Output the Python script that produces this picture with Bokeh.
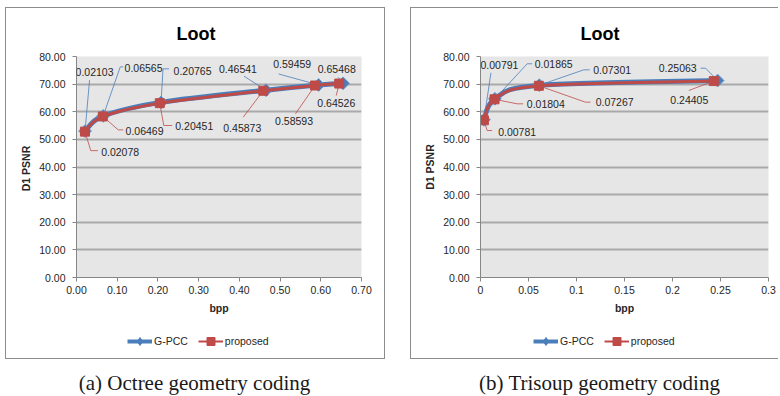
from bokeh.plotting import figure
from bokeh.models import (Range1d, FixedTicker, NumeralTickFormatter, Legend, LegendItem,
                          ColumnDataSource, LabelSet, Div)
from bokeh.core.properties import value
from bokeh.layouts import row, column
from bokeh.embed import file_html
from bokeh.resources import INLINE

NAN = float("nan")

# ---------------- data ----------------
series_names = ["G-PCC", "proposed"]
chart_title = "Loot"
x_label = "bpp"

oct_gpcc_bpp = [0.02103, 0.06565, 0.20765, 0.46541, 0.59459, 0.65468]
oct_gpcc_psnr = [53.0, 58.5, 63.4, 67.8, 69.7, 70.3]
oct_gpcc_labels = ["0.02103", "0.06565", "0.20765", "0.46541", "0.59459", "0.65468"]
oct_prop_bpp = [0.02078, 0.06469, 0.20451, 0.45873, 0.58593, 0.64526]
oct_prop_psnr = [52.8, 58.3, 63.1, 67.6, 69.5, 70.2]
oct_prop_labels = ["0.02078", "0.06469", "0.20451", "0.45873", "0.58593", "0.64526"]

tri_gpcc_bpp = [0.0036, 0.0150, 0.0612, 0.2470]
tri_gpcc_psnr = [57.1, 64.7, 69.6, 71.3]
tri_gpcc_labels = ["0.00791", "0.01865", "0.07301", "0.25063"]
tri_prop_bpp = [0.0035, 0.0146, 0.0608, 0.2430]
tri_prop_psnr = [56.9, 64.5, 69.4, 71.1]
tri_prop_labels = ["0.00781", "0.01804", "0.07267", "0.24405"]

y_ticks = [0, 10, 20, 30, 40, 50, 60, 70, 80]
oct_x_ticks = [0.0, 0.1, 0.2, 0.3, 0.4, 0.5, 0.6, 0.7]
tri_x_ticks = [0, 0.05, 0.1, 0.15, 0.2, 0.25, 0.3]
tri_x_tick_labels = ["0", "0.05", "0.1", "0.15", "0.2", "0.25", "0.3"]

captions = ["(a) Octree geometry coding", "(b) Trisoup geometry coding"]

# ---------------- label placement (screen px, y down) ----------------
oct_gpcc_off = [(9.5, -58.6), (40.3, -47.9), (31.5, -30.9), (-28, -21.4), (-26.4, -21.2), (-6.3, -13.8)]
oct_gpcc_lead = [[(0, 0), (4.5, -51)], [(0, 0), (17, -49), (20, -49)], [(0, 0), (2, -33.5), (8, -33.5)],
                 [(0, 0), (-22, -14)], [(0, 0), (-40, -11)], [(0, 0), (-5, -6)]]
oct_prop_off = [(35.2, 20.6), (41.7, 14.8), (34.5, 23.3), (-21, 37), (-21, 35.7), (-2.9, 19.2)]
oct_prop_lead = [[(0, 0), (5.8, 19), (13, 19)], [(0, 0), (15.4, 13.4), (20.4, 13.4)],
                 [(0, 0), (4, 22.3), (12.4, 22.3)], [(0, 0), (-20, 26.4)], [(0, 0), (-19.6, 28.3)],
                 [(0, 0), (-3, 12)]]
tri_gpcc_off = [(15.5, -54.3), (58.8, -35), (72.9, -15.4), (-39.9, -12.3)]
tri_gpcc_lead = [[(0, 0), (7, -47)], [(0, 0), (32.3, -35), (37.3, -35)],
                 [(0, 0), (44.5, -15.4), (50.5, -15.4)], [(0, 0), (-12, -12.3), (-17, -12.3)]]
tri_prop_off = [(33.3, 11.2), (51.3, 4.5), (75.8, 16.4), (-24.5, 19.4)]
tri_prop_lead = [[(0, 0), (3.3, 10.2), (8.3, 10.2)], [(0, 0), (22.7, 4.5), (28.7, 4.5)],
                 [(0, 0), (46.6, 16.4), (51.6, 16.4)], [(0, 0), (-25, 9.4)]]

BLUE = "#4a7ebb"
RED = "#be4b48"
TXT = "#262626"
FONT = "Liberation Sans"


def bez(xs, ys):
    n = len(xs)
    out = dict(x0=[], y0=[], x1=[], y1=[], cx0=[], cy0=[], cx1=[], cy1=[])
    for i in range(n - 1):
        im = max(i - 1, 0)
        ip = min(i + 2, n - 1)
        out["x0"].append(xs[i]); out["y0"].append(ys[i])
        out["x1"].append(xs[i + 1]); out["y1"].append(ys[i + 1])
        out["cx0"].append(xs[i] + (xs[i + 1] - xs[im]) / 6)
        out["cy0"].append(ys[i] + (ys[i + 1] - ys[im]) / 6)
        out["cx1"].append(xs[i + 1] - (xs[ip] - xs[i]) / 6)
        out["cy1"].append(ys[i + 1] - (ys[ip] - ys[i]) / 6)
    return out


def make_chart(xa, ya, la, xb, yb, lb, offa, leada, offb, leadb, x_end, x_ticks,
               mb_left, fw, mb_right, ylab, legend_x, title_offset, tick_overrides=None):
    fh = 221
    p = figure(frame_width=fw, frame_height=fh, min_border_left=mb_left, min_border_right=mb_right,
               min_border_top=48, min_border_bottom=45, output_backend="svg", toolbar_location=None,
               x_range=Range1d(0, x_end), y_range=Range1d(0, 80))
    ppx = fw / x_end
    ppy = fh / 80.0
    p.background_fill_color = "#e6e6e6"
    p.border_fill_color = "white"
    p.outline_line_color = None
    p.xgrid.grid_line_color = None
    p.ygrid.grid_line_color = "#a9a9a9"
    p.ygrid.grid_line_width = 2
    p.yaxis.ticker = FixedTicker(ticks=y_ticks)
    p.xaxis.ticker = FixedTicker(ticks=x_ticks)
    p.yaxis.formatter = NumeralTickFormatter(format="0.00")
    if tick_overrides is None:
        p.xaxis.formatter = NumeralTickFormatter(format="0.00")
    else:
        p.xaxis.major_label_overrides = tick_overrides
    for ax in (p.xaxis[0], p.yaxis[0]):
        ax.axis_line_color = "#868686"
        ax.major_tick_line_color = "#868686"
        ax.major_tick_in = 0
        ax.major_tick_out = 4
        ax.minor_tick_line_color = None
        ax.major_label_text_font = FONT
        ax.major_label_text_font_size = "10.5px"
        ax.major_label_text_color = TXT
        ax.axis_label_text_font = FONT
        ax.axis_label_text_font_size = "10.5px"
        ax.axis_label_text_font_style = "bold"
        ax.axis_label_text_color = TXT
    p.xaxis.axis_label = x_label
    p.yaxis.axis_label = ylab
    p.xaxis.major_label_standoff = 4
    p.xaxis.axis_label_standoff = 5
    p.yaxis.major_label_standoff = 7
    p.yaxis.axis_label_standoff = 4

    p.title.text = chart_title
    p.title.align = "left"
    p.title.offset = title_offset
    p.title.text_font = FONT
    p.title.text_font_size = "18px"
    p.title.text_font_style = "bold"
    p.title.text_color = "black"
    p.title.standoff = 25

    # leader lines
    for xs, ys, leads, col in ((xa, ya, leada, BLUE), (xb, yb, leadb, RED)):
        lx = [[x + dx / ppx for dx, dy in path] for x, path in zip(xs, leads)]
        ly = [[y - dy / ppy for dx, dy in path] for y, path in zip(ys, leads)]
        p.multi_line(lx, ly, line_color=col, line_width=0.8)

    # series
    ba = bez(xa, ya)
    p.bezier(source=ColumnDataSource(ba), x0="x0", y0="y0", x1="x1", y1="y1",
             cx0="cx0", cy0="cy0", cx1="cx1", cy1="cy1", line_color=BLUE, line_width=5)
    p.scatter(xa, ya, marker="square", angle=0.785398, size=9, fill_color=BLUE,
              line_color="#6d97cb", line_width=1)
    bb = bez(xb, yb)
    p.bezier(source=ColumnDataSource(bb), x0="x0", y0="y0", x1="x1", y1="y1",
             cx0="cx0", cy0="cy0", cx1="cx1", cy1="cy1", line_color=RED, line_width=3)
    p.scatter(xb, yb, marker="square", size=9, fill_color=RED, line_color=RED)

    # data labels
    for xs, ys, labs, offs in ((xa, ya, la, offa), (xb, yb, lb, offb)):
        src = ColumnDataSource(dict(x=xs, y=ys, t=labs,
                                    dx=[o[0] for o in offs], dy=[-o[1] for o in offs]))
        p.add_layout(LabelSet(x="x", y="y", text="t", x_offset="dx", y_offset="dy", source=src,
                              text_align="center", text_baseline="middle", text_font=value(FONT),
                              text_font_size=value("10.5px"), text_color=TXT))

    # legend strip (inside the same box); legend-only renderers hold no data (NaN)
    total_w = mb_left + fw + mb_right
    lg = figure(frame_width=total_w, frame_height=36, min_border=0, output_backend="svg",
                toolbar_location=None, x_axis_type=None, y_axis_type=None,
                x_range=Range1d(0, 1), y_range=Range1d(0, 1))
    lg.background_fill_color = "white"
    lg.border_fill_color = "white"
    lg.outline_line_color = None
    lg.xgrid.grid_line_color = None
    lg.ygrid.grid_line_color = None
    la_line = lg.line(x=[NAN], y=[NAN], line_color=BLUE, line_width=4)
    la_mk = lg.scatter(x=[NAN], y=[NAN], marker="diamond", size=12, fill_color=BLUE, line_color=BLUE)
    lb_line = lg.line(x=[NAN], y=[NAN], line_color=RED, line_width=2)
    lb_mk = lg.scatter(x=[NAN], y=[NAN], marker="square", size=8, fill_color=RED, line_color=RED)
    leg = Legend(items=[LegendItem(label=series_names[0], renderers=[la_line, la_mk]),
                        LegendItem(label=series_names[1], renderers=[lb_line, lb_mk])],
                 orientation="horizontal", location=(legend_x, 7), padding=0, margin=0,
                 spacing=10, glyph_width=25, glyph_height=20, label_height=20, label_standoff=2,
                 label_text_font=FONT, label_text_font_size="10.5px", label_text_color=TXT,
                 border_line_color=None, background_fill_alpha=0)
    lg.add_layout(leg, "center")
    return p, lg


p1, l1 = make_chart(oct_gpcc_bpp, oct_gpcc_psnr, oct_gpcc_labels, oct_prop_bpp, oct_prop_psnr,
                    oct_prop_labels, oct_gpcc_off, oct_gpcc_lead, oct_prop_off, oct_prop_lead,
                    0.7, oct_x_ticks, 70, 285, 23, "D1  PSNR", 121, 100)
box1 = column(p1, l1, spacing=0, styles={"border": "1px solid #8c8c8c"})

p2, l2 = make_chart(tri_gpcc_bpp, tri_gpcc_psnr, tri_gpcc_labels, tri_prop_bpp, tri_prop_psnr,
                    tri_prop_labels, tri_gpcc_off, tri_gpcc_lead, tri_prop_off, tri_prop_lead,
                    0.3, tri_x_ticks, 69, 288, 10, "D1 PSNR", 122, 100,
                    tick_overrides=dict(zip(tri_x_ticks, tri_x_tick_labels)))
box2 = column(p2, l2, spacing=0, styles={"border-left": "1px solid #8c8c8c",
                                         "border-top": "1px solid #8c8c8c",
                                         "border-bottom": "1px solid #8c8c8c"})

cap_style = {"font-family": "Liberation Serif", "font-size": "21px", "line-height": "24px",
             "text-align": "center", "color": "#1a1a1a", "white-space": "nowrap"}
c1 = Div(text=captions[0], width=369, height=24, styles=dict(cap_style))
c2 = Div(text=captions[1], width=369, height=24, styles=dict(cap_style))

layout = row(column(box1, c1, spacing=7), column(box2, c2, spacing=7), spacing=25,
             margin=(7, 0, 0, 5))

open("out.html", "w").write(file_html(layout, INLINE))
